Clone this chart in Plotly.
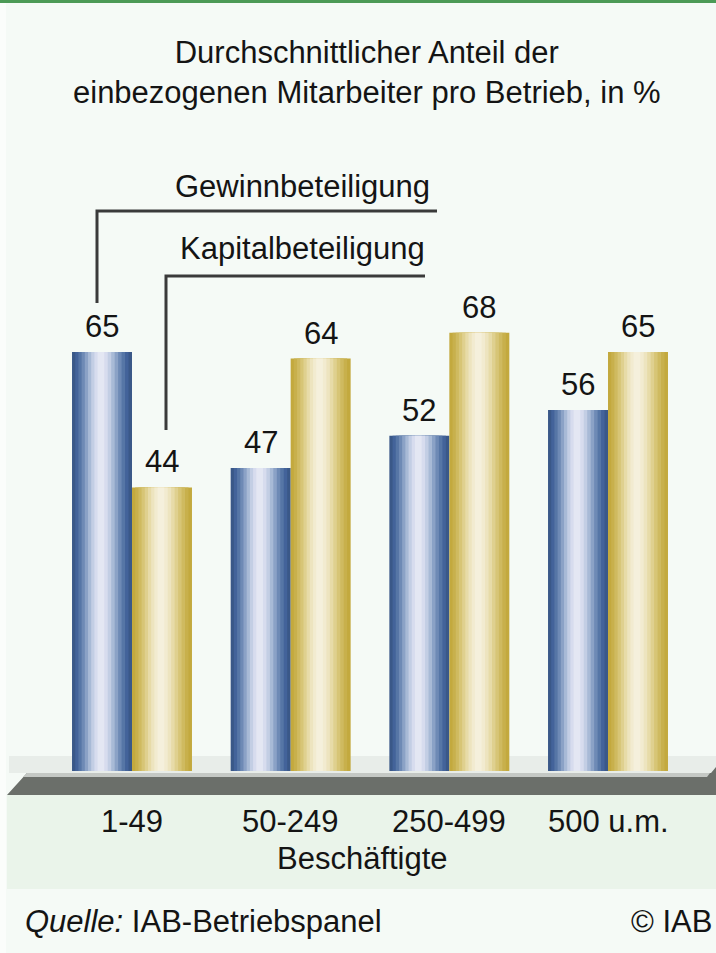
import plotly.graph_objects as go

# ---------------- data ----------------
categories = ["1-49", "50-249", "250-499", "500 u.m."]
gewinn = [65, 47, 52, 56]
kapital = [44, 64, 68, 65]
series_names = ["Gewinnbeteiligung", "Kapitalbeteiligung"]
title_lines = ["Durchschnittlicher Anteil der", "einbezogenen Mitarbeiter pro Betrieb, in %"]
axis_title = "Beschäftigte"
source_label = "Quelle:"
source_text = "IAB-Betriebspanel"
copyright_text = "© IAB"

# ---------------- style ----------------
W, H = 716, 953
FONT = "Liberation Sans, Arial, sans-serif"
FS = 31
TXT = "#141414"
BG = "#f5faf6"

blue_ramp = ["#3a5888", "#43639a", "#5676a6", "#6e8ab5", "#8ba2c6", "#a8bad6",
             "#c3cee4", "#d7dcee", "#e4e7f3"]
gold_ramp = ["#c3a93e", "#c8b04c", "#cfba60", "#d7c576", "#dfd08f", "#e7dba8",
             "#ede4bf", "#f2ebd0", "#f5f0dc"]

BW = 0.378          # bar width in category units
CENTER_FRAC = 0.48  # position of the lightest stripe inside a bar


def px(x):
    return x / W


def py(y):
    return 1 - y / H


x_idx = list(range(len(categories)))

fig = go.Figure()


def add_gradient_bar(values, left, right, ramp):
    c = left + (right - left) * CENTER_FRAC
    n = len(ramp)
    for k, col in enumerate(ramp):
        l = left + k * (c - left) / n
        r = right - k * (right - c) / n
        fig.add_trace(go.Bar(
            x=x_idx, y=values, offset=l, width=r - l,
            marker=dict(color=col, line=dict(width=0)),
            hoverinfo="skip", showlegend=False,
        ))


add_gradient_bar(gewinn, -BW, 0.0, blue_ramp)
add_gradient_bar(kapital, 0.0, BW, gold_ramp)

annotations = []
# value labels
for vals, center in ((gewinn, -BW / 2), (kapital, BW / 2)):
    for i, v in zip(x_idx, vals):
        annotations.append(dict(
            x=i + center, y=v, xref="x", yref="y", text=str(v),
            showarrow=False, yanchor="bottom", yshift=6,
            font=dict(family=FONT, size=FS, color=TXT)))

# category labels
for i, c in zip(x_idx, categories):
    annotations.append(dict(
        x=i, y=py(821), xref="x", yref="paper", text=c, showarrow=False,
        yanchor="middle", font=dict(family=FONT, size=FS, color=TXT)))

annotations.append(dict(
    x=px(363), y=py(858), xref="paper", yref="paper", text=axis_title,
    showarrow=False, yanchor="middle", font=dict(family=FONT, size=FS, color=TXT)))

# title
annotations.append(dict(
    x=px(367), y=py(73), xref="paper", yref="paper",
    text="<br>".join(title_lines), showarrow=False, yanchor="middle",
    font=dict(family=FONT, size=FS, color=TXT)))

# legend texts
annotations.append(dict(
    x=px(432), y=py(186), xref="paper", yref="paper", text=series_names[0],
    showarrow=False, xanchor="right", yanchor="middle",
    font=dict(family=FONT, size=FS, color=TXT)))
annotations.append(dict(
    x=px(427), y=py(248), xref="paper", yref="paper", text=series_names[1],
    showarrow=False, xanchor="right", yanchor="middle",
    font=dict(family=FONT, size=FS, color=TXT)))

# footer
annotations.append(dict(
    x=px(23), y=py(921), xref="paper", yref="paper",
    text=f"<i>{source_label}</i> {source_text}", showarrow=False,
    xanchor="left", yanchor="middle", font=dict(family=FONT, size=FS, color=TXT)))
annotations.append(dict(
    x=px(714), y=py(921), xref="paper", yref="paper", text=copyright_text,
    showarrow=False, xanchor="right", yanchor="middle",
    font=dict(family=FONT, size=FS, color=TXT)))


def poly(points):
    return "M " + " L ".join(f"{px(x)},{py(y)}" for x, y in points) + " Z"


def polyline(points):
    return "M " + " L ".join(f"{px(x)},{py(y)}" for x, y in points)


shapes = [
    # white left margin strip
    dict(type="rect", xref="paper", yref="paper", x0=0, x1=px(6), y0=0, y1=py(3),
         fillcolor="#fbfdfb", line=dict(width=0), layer="below"),
    # top green rule
    dict(type="rect", xref="paper", yref="paper", x0=0, x1=1, y0=py(3), y1=1,
         fillcolor="#4c9a56", line=dict(width=0), layer="below"),
    # band behind the bar feet
    dict(type="rect", xref="paper", yref="paper", x0=px(9), x1=1, y0=py(773), y1=py(756),
         fillcolor="#e8ede9", line=dict(width=0), layer="below"),
    # lower band with category labels
    dict(type="rect", xref="paper", yref="paper", x0=px(7), x1=1, y0=py(889), y1=py(795),
         fillcolor="#eaf4ea", line=dict(width=0), layer="below"),
    # floor dark
    dict(type="path", xref="paper", yref="paper",
         path=poly([(27, 773), (711, 773), (716, 767), (716, 795), (7, 795)]),
         fillcolor="#6b6f6a", line=dict(width=0), layer="below"),
    # floor light edge
    dict(type="path", xref="paper", yref="paper",
         path=poly([(27, 773), (710, 773), (707, 777), (23, 777)]),
         fillcolor="#c4c8c4", line=dict(width=0), layer="below"),
    # leader lines
    dict(type="path", xref="paper", yref="paper",
         path=polyline([(97, 303), (97, 211), (437, 211)]),
         line=dict(color="#3a3a3a", width=3)),
    dict(type="path", xref="paper", yref="paper",
         path=polyline([(166, 430), (166, 276), (425, 276)]),
         line=dict(color="#3a3a3a", width=3)),
]

ZERO_PX = 771.0
SCALE = 6.445
C0 = 132.0
STEP = 158.67

fig.update_layout(
    width=W, height=H,
    margin=dict(l=0, r=0, t=0, b=0, pad=0),
    paper_bgcolor=BG, plot_bgcolor="rgba(0,0,0,0)",
    barmode="overlay",
    showlegend=False,
    xaxis=dict(visible=False, range=[-C0 / STEP, (W - C0) / STEP], fixedrange=True),
    yaxis=dict(visible=False, range=[-(H - ZERO_PX) / SCALE, ZERO_PX / SCALE], fixedrange=True),
    annotations=annotations,
    shapes=shapes,
)

fig.write_html(
    "out.html",
    config={"displayModeBar": False},
    post_script="document.body.style.margin='0';document.documentElement.style.margin='0';"
                "document.body.style.overflow='hidden';",
)
